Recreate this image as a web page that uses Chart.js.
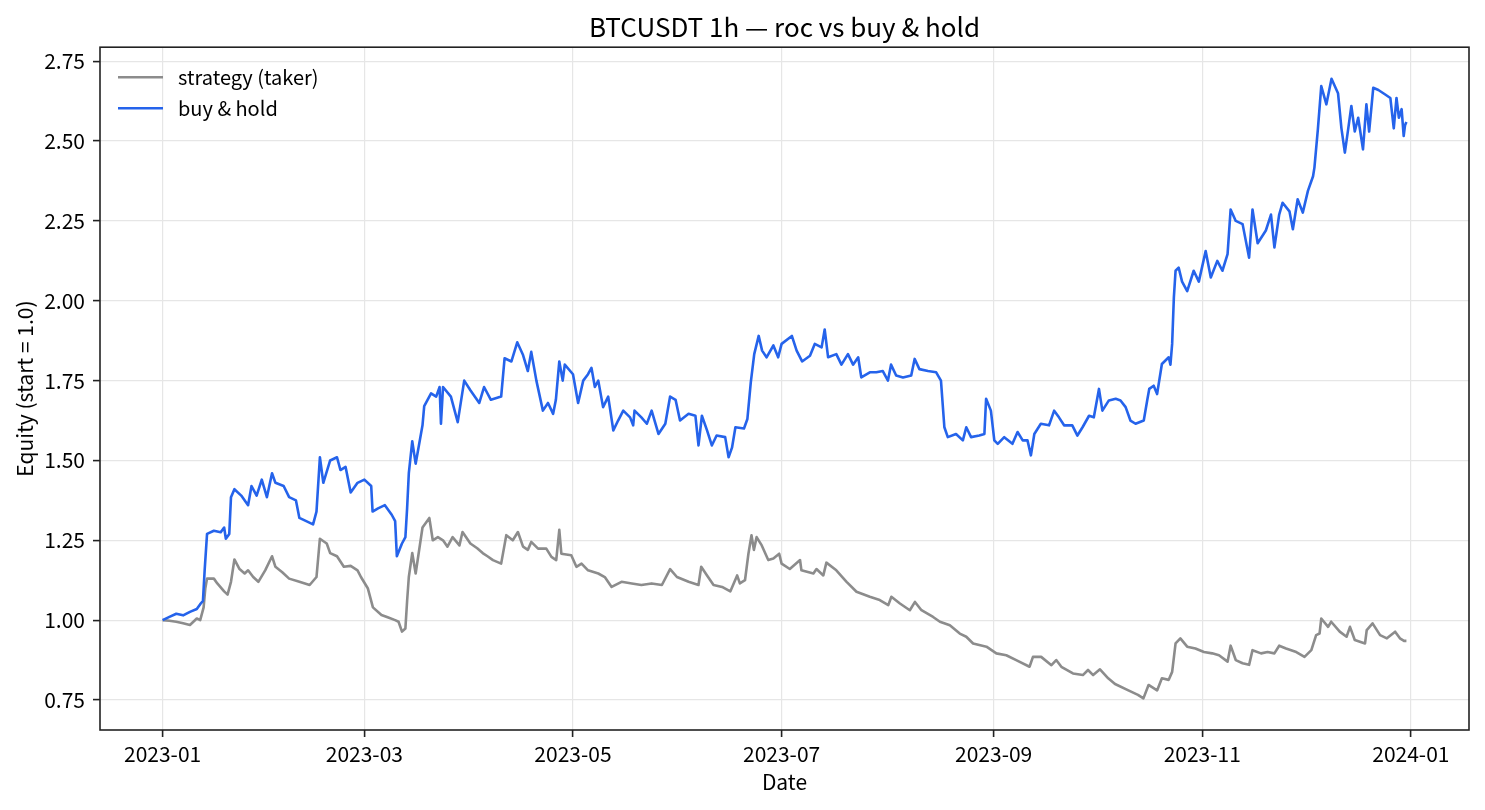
<!DOCTYPE html>
<html>
<head>
<meta charset="utf-8">
<title>BTCUSDT 1h — roc vs buy &amp; hold</title>
<script src="https://cdn.jsdelivr.net/npm/chart.js@4.4.1/dist/chart.umd.min.js"></script>
<style>
    html, body { margin: 0; padding: 0; background: #fff; }
    #chart { display: block; }
</style>
</head>
<body>
<canvas id="chart" width="1485" height="810"></canvas>
<script>
// Equity curves. x = days since 2023-01-01 00:00
const stratDays = [
    0, 2, 4, 6, 8, 10, 11, 12, 12.5, 13, 15, 16, 18, 19, 20, 21, 22.5, 24, 25, 26.5,
    28, 30, 32, 33, 35, 37, 40, 43, 45, 46, 48, 49, 51, 53, 55, 57, 58, 60, 61.5, 64,
    66, 68, 69, 70, 71, 71.5, 72, 73, 74, 76, 78, 79, 80.5, 82, 83.3, 84.8, 86.8, 87.7, 90, 92,
    93.6, 95, 96.6, 99, 100.5, 102.4, 103.9, 105.4, 106.8, 107.8, 109.8, 112.2, 113.7, 115.1, 116, 116.6, 119.5, 121, 122.5, 124.4,
    127.4, 129.3, 131.3, 134.2, 137.2, 140, 143, 146, 148.4, 150.4, 153.8, 156.7, 157.5, 159.2, 161.1, 163.6, 166, 168, 168.8, 170.3,
    171.3, 172.2, 172.9, 173.7, 175.2, 177.1, 178.6, 180.3, 181, 183.4, 186.4, 186.8, 190.3, 191.2, 193.2, 194.1, 197, 200, 202.9, 206.8,
    209.7, 212.2, 213.1, 215.6, 218.5, 220, 221.9, 225.3, 227.3, 230.2, 233.1, 235, 237, 240.9, 243.8, 246.7, 249.6, 253.5, 254.5, 256.9,
    259.9, 261.3, 262.8, 266.2, 269.1, 270.6, 272.1, 274.1, 276.5, 278.5, 282.4, 285.2, 286.8, 288.3, 290.8, 292.2, 294.2, 295.2, 296.2, 297.6,
    299.6, 302, 304.5, 306.9, 308.9, 311.4, 312.3, 313.8, 315.8, 317.7, 318.7, 321.2, 323.1, 325.1, 326.5, 328.5, 331.5, 333.9, 335.9, 337.3,
    338.3, 338.8, 340.8, 341.7, 344.2, 346.2, 347.2, 348.6, 351.6, 352.1, 353.8, 356, 358, 360.4, 361.8, 363.0, 363.7
];
const stratEquity = [
    1.00, 0.998, 0.995, 0.99, 0.985, 1.005, 1.00, 1.04, 1.10, 1.13, 1.13, 1.115, 1.09, 1.08, 1.12, 1.19, 1.16, 1.146, 1.156, 1.135,
    1.12, 1.156, 1.20, 1.167, 1.15, 1.13, 1.12, 1.11, 1.135, 1.255, 1.24, 1.21, 1.20, 1.167, 1.17, 1.156, 1.135, 1.10, 1.04, 1.016,
    1.008, 1.00, 0.995, 0.964, 0.974, 1.06, 1.135, 1.21, 1.146, 1.29, 1.32, 1.25, 1.26, 1.25, 1.23, 1.26, 1.234, 1.276, 1.24, 1.225,
    1.21, 1.20, 1.188, 1.177, 1.266, 1.25, 1.276, 1.23, 1.22, 1.245, 1.224, 1.224, 1.198, 1.188, 1.283, 1.208, 1.203, 1.167, 1.177, 1.156,
    1.146, 1.135, 1.104, 1.12, 1.115, 1.11, 1.115, 1.11, 1.16, 1.135, 1.12, 1.11, 1.167, 1.14, 1.11, 1.104, 1.09, 1.14, 1.115, 1.125,
    1.208, 1.266, 1.22, 1.26, 1.234, 1.188, 1.193, 1.208, 1.177, 1.16, 1.188, 1.156, 1.146, 1.16, 1.14, 1.18, 1.156, 1.12, 1.089, 1.073,
    1.063, 1.047, 1.073, 1.052, 1.031, 1.057, 1.031, 1.01, 0.995, 0.984, 0.958, 0.948, 0.927, 0.917, 0.896, 0.89, 0.875, 0.854, 0.885, 0.885,
    0.859, 0.875, 0.854, 0.833, 0.828, 0.844, 0.828, 0.846, 0.818, 0.80, 0.78, 0.766, 0.755, 0.797, 0.78, 0.818, 0.813, 0.838, 0.927, 0.943,
    0.917, 0.911, 0.90, 0.896, 0.89, 0.87, 0.92, 0.875, 0.865, 0.86, 0.906, 0.896, 0.90, 0.896, 0.92, 0.911, 0.90, 0.885, 0.906, 0.953,
    0.958, 1.005, 0.979, 0.995, 0.964, 0.948, 0.979, 0.938, 0.927, 0.969, 0.99, 0.953, 0.943, 0.964, 0.943, 0.935, 0.935
];

const holdDays = [
    0, 2, 4, 6, 8, 10, 11, 11.8, 12.3, 13, 15, 17, 18, 18.5, 19.5, 20, 21, 23, 25, 26,
    27.5, 29, 30.5, 32, 33, 35.4, 37, 39, 40, 42, 44, 45, 46, 47, 49, 51, 52, 53.5, 55, 57,
    59, 61, 61.4, 63, 65, 67, 68, 68.5, 70, 71, 71.5, 72, 73, 74, 76, 76.5, 78.5, 80, 81, 81.4,
    82, 84.3, 86.3, 88.2, 90, 92.6, 94, 96, 99, 100, 102, 103.7, 105.4, 106.8, 107.8, 109.3, 111.2, 112.7, 114.2, 115,
    116, 117, 117.6, 120, 121.5, 123, 124.4, 125.4, 126.4, 127.4, 128.8, 130.3, 131.8, 133.2, 134.7, 136.7, 137.6, 138, 140, 141.6,
    143, 145, 147, 148.4, 150, 151.3, 153.8, 155.8, 156.7, 157.7, 159.2, 160.6, 162, 164.5, 165.5, 166.5, 167.5, 170, 171, 172,
    173, 174.3, 175.3, 176.6, 178.6, 180, 181, 184, 185.4, 187, 189.3, 190.7, 192.7, 193.6, 194.6, 197, 198.5, 200.4, 201.9, 203.4,
    204.3, 206.8, 208.7, 210.6, 212.1, 213, 214.5, 216.5, 218.9, 219.9, 221.3, 223.8, 226.2, 227.6, 228.6, 229.6, 232, 234, 235, 236.4,
    238.8, 240.3, 240.8, 242.2, 243.2, 244.2, 246.1, 248.5, 250, 251.5, 252.9, 253.9, 254.9, 256.8, 259.2, 260.7, 262.1, 263.6, 266, 267.5,
    269, 270.9, 272.3, 273.8, 274.8, 276.7, 278.7, 280.1, 281.6, 283, 284.5, 286.9, 287.9, 288.5, 289.8, 290.8, 292.2, 294.2, 294.7, 295.2,
    295.7, 296.2, 297.1, 298.1, 299.6, 301.5, 303, 305, 306.5, 308.4, 309.9, 311.4, 312.3, 313.8, 315.8, 317.7, 318.7, 320.2, 322.6, 324.1,
    325.1, 326.5, 327.5, 329.5, 330.5, 331.9, 333.4, 334.9, 336.4, 336.8, 337.8, 338.8, 340.3, 341.8, 343.7, 344.7, 345.7, 346.7, 347.6, 348.6,
    349.6, 351, 352, 352.8, 354, 355.5, 357.5, 359, 360, 360.8, 361.5, 362.3, 362.9, 363.3, 363.7
];
const holdEquity = [
    1.00, 1.01, 1.02, 1.015, 1.026, 1.035, 1.05, 1.06, 1.156, 1.27, 1.28, 1.275, 1.29, 1.255, 1.27, 1.385, 1.41, 1.39, 1.36, 1.42,
    1.39, 1.44, 1.385, 1.46, 1.43, 1.42, 1.385, 1.375, 1.32, 1.31, 1.30, 1.34, 1.51, 1.43, 1.50, 1.51, 1.47, 1.48, 1.40, 1.43,
    1.44, 1.42, 1.34, 1.35, 1.36, 1.33, 1.31, 1.20, 1.24, 1.26, 1.35, 1.46, 1.56, 1.49, 1.61, 1.67, 1.71, 1.70, 1.73, 1.615,
    1.73, 1.70, 1.62, 1.75, 1.72, 1.68, 1.73, 1.69, 1.70, 1.82, 1.81, 1.87, 1.83, 1.78, 1.84, 1.75, 1.656, 1.68, 1.646, 1.69,
    1.81, 1.75, 1.80, 1.77, 1.68, 1.75, 1.77, 1.79, 1.73, 1.75, 1.667, 1.70, 1.594, 1.625, 1.656, 1.635, 1.61, 1.656, 1.635, 1.615,
    1.656, 1.583, 1.615, 1.70, 1.69, 1.625, 1.646, 1.64, 1.547, 1.64, 1.594, 1.547, 1.578, 1.573, 1.51, 1.54, 1.604, 1.60, 1.63, 1.745,
    1.833, 1.89, 1.844, 1.823, 1.86, 1.823, 1.865, 1.89, 1.844, 1.81, 1.828, 1.865, 1.854, 1.91, 1.823, 1.833, 1.80, 1.833, 1.80, 1.823,
    1.76, 1.776, 1.776, 1.78, 1.75, 1.80, 1.766, 1.76, 1.766, 1.818, 1.786, 1.78, 1.776, 1.75, 1.604, 1.573, 1.583, 1.563, 1.604, 1.573,
    1.578, 1.583, 1.693, 1.656, 1.563, 1.552, 1.573, 1.552, 1.589, 1.563, 1.563, 1.516, 1.583, 1.615, 1.61, 1.656, 1.635, 1.61, 1.61, 1.578,
    1.604, 1.64, 1.635, 1.724, 1.656, 1.688, 1.693, 1.688, 1.667, 1.625, 1.615, 1.625, 1.688, 1.724, 1.734, 1.708, 1.802, 1.823, 1.80, 1.865,
    2.01, 2.094, 2.104, 2.06, 2.03, 2.094, 2.06, 2.156, 2.073, 2.125, 2.094, 2.146, 2.286, 2.25, 2.24, 2.135, 2.286, 2.18, 2.22, 2.27,
    2.167, 2.27, 2.307, 2.28, 2.224, 2.318, 2.276, 2.344, 2.39, 2.417, 2.536, 2.672, 2.615, 2.695, 2.65, 2.54, 2.464, 2.54, 2.61, 2.53,
    2.573, 2.474, 2.615, 2.53, 2.667, 2.66, 2.646, 2.635, 2.54, 2.635, 2.573, 2.60, 2.516, 2.55, 2.56
];

// x ticks: first day of every other month
const monthTickDays = [0, 59, 120, 181, 243, 304, 365];
const monthTickLabels = ["2023-01", "2023-03", "2023-05", "2023-07", "2023-09", "2023-11", "2024-01"];
const equityTicks = [0.75, 1.00, 1.25, 1.50, 1.75, 2.00, 2.25, 2.50, 2.75];

const FONT = "'Noto Sans CJK KR', 'Noto Sans', sans-serif";
Chart.defaults.font.family = FONT;
Chart.defaults.font.size = 21;
Chart.defaults.color = "#000";

const gridColor = "#e6e6e6";

function toPoints(days, values) {
    return days.map((d, i) => ({ x: d, y: values[i] }));
}

// box round the plot area, like a matplotlib axes frame
const framePlugin = {
    id: "frame",
    afterDatasetsDraw(chart) {
        const { ctx, chartArea: a } = chart;
        ctx.save();
        ctx.strokeStyle = "#222";
        ctx.lineWidth = 1.6;
        ctx.strokeRect(a.left, a.top, a.right - a.left, a.bottom - a.top);
        ctx.restore();
    }
};

// legend inside the axes, top left, no frame
const innerLegend = {
    id: "innerLegend",
    afterDraw(chart) {
        const { ctx, chartArea: a } = chart;
        ctx.save();
        ctx.font = "20px " + FONT;
        ctx.textBaseline = "middle";
        chart.data.datasets.forEach((ds, i) => {
            const y = a.top + 30 + i * 31;
            ctx.strokeStyle = ds.borderColor;
            ctx.lineWidth = 2.6;
            ctx.beginPath();
            ctx.moveTo(a.left + 18, y);
            ctx.lineTo(a.left + 63, y);
            ctx.stroke();
            ctx.fillStyle = "#000";
            ctx.fillText(ds.label, a.left + 78, y);
        });
        ctx.restore();
    }
};

const ctx = document.getElementById("chart").getContext("2d");

new Chart(ctx, {
    type: "line",
    data: {
        datasets: [
            {
                label: "strategy (taker)",
                data: toPoints(stratDays, stratEquity),
                borderColor: "#8c8c8c",
                borderWidth: 2.6,
                pointRadius: 0,
                tension: 0,
                borderJoinStyle: "round",
                order: 2
            },
            {
                label: "buy & hold",
                data: toPoints(holdDays, holdEquity),
                borderColor: "#2563eb",
                borderWidth: 2.6,
                pointRadius: 0,
                tension: 0,
                borderJoinStyle: "round",
                order: 1
            }
        ]
    },
    options: {
        responsive: false,
        animation: false,
        devicePixelRatio: 1,
        layout: { padding: { left: 0, right: 16, top: 0, bottom: 0 } },
        plugins: {
            legend: { display: false },
            tooltip: { enabled: false },
            title: {
                display: true,
                text: "BTCUSDT 1h — roc vs buy & hold",
                fullSize: false,
                color: "#000",
                font: { size: 26, weight: "normal" },
                padding: { top: 12, bottom: 4 }
            }
        },
        scales: {
            x: {
                type: "linear",
                min: -18.3,
                max: 382.0,
                afterBuildTicks: scale => {
                    scale.ticks = monthTickDays.map(v => ({ value: v }));
                },
                afterFit: scale => { scale.height = 80; },
                ticks: {
                    autoSkip: false,
                    maxRotation: 0,
                    padding: 4,
                    callback: v => monthTickLabels[monthTickDays.indexOf(v)]
                },
                grid: { color: gridColor, lineWidth: 1.2, tickColor: "#222", tickLength: 7, tickWidth: 1.6 },
                border: { display: false },
                title: { display: true, text: "Date", padding: { top: 0, bottom: 15 } }
            },
            y: {
                type: "linear",
                min: 0.656,
                max: 2.794,
                afterBuildTicks: scale => {
                    scale.ticks = equityTicks.map(v => ({ value: v }));
                },
                afterFit: scale => { scale.width = 100; },
                ticks: {
                    padding: 8,
                    callback: v => v.toFixed(2)
                },
                grid: { color: gridColor, lineWidth: 1.2, tickColor: "#222", tickLength: 7, tickWidth: 1.6 },
                border: { display: false },
                title: { display: true, text: "Equity (start = 1.0)", padding: { top: 12, bottom: 0 } }
            }
        }
    },
    plugins: [framePlugin, innerLegend]
});
</script>
</body>
</html>
